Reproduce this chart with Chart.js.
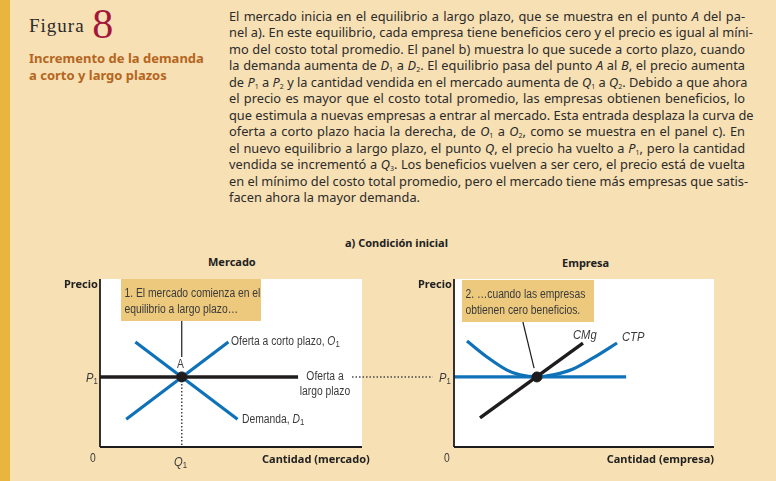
<!DOCTYPE html>
<html>
<head>
<meta charset="utf-8">
<script src="https://cdn.jsdelivr.net/npm/chart.js@4.4.0/dist/chart.umd.min.js"></script>
<style>
html,body{margin:0;padding:0;}
body{width:776px;height:481px;background:#f7e0b4;position:relative;overflow:hidden;font-family:"Noto Sans",sans-serif;color:#2b2b2b;}
#franja{position:absolute;left:0;top:0;width:10px;height:481px;background:#e8b63e;}
.fig{position:absolute;left:29px;top:-6px;font-family:"Liberation Serif",serif;font-size:19px;letter-spacing:1px;color:#2b2b2b;}
.fig b{font-weight:normal;font-size:42px;color:#a3183a;position:relative;top:6px;margin-left:2px;}
.titulo{position:absolute;left:29px;top:50px;font-size:13px;font-weight:bold;line-height:17px;color:#b5651d;}
#texto{position:absolute;left:229px;top:8px;width:516px;font-size:12.8px;line-height:16.45px;}
#texto span{display:block;text-align:justify;text-align-last:justify;white-space:nowrap;}
#texto span.ult{text-align-last:left;}
#texto i{font-style:italic;}
#texto sub{font-size:7px;vertical-align:-2px;line-height:0;}
.lb{position:absolute;white-space:nowrap;transform:translateY(-50%);}
.bold{font-weight:bold;font-size:11px;color:#222;}
.cond{font-family:"Liberation Sans",sans-serif;font-size:12px;color:#3a3a3a;transform:translateY(-50%) scaleX(0.86);transform-origin:left center;}
.cond.cen{transform-origin:center center;text-align:center;}
.cond.gr{font-size:13px;}
.caja{position:absolute;background:#ecc97d;}
.caja div{font-family:"Liberation Sans",sans-serif;font-size:12px;line-height:16px;color:#3a3a3a;padding:6px 0 0 4px;white-space:nowrap;transform:scaleX(0.86);transform-origin:left top;}
.cond sub{font-size:9px;vertical-align:-2px;line-height:0;}
canvas{position:absolute;}
</style>
</head>
<body>
<div id="franja"></div>
<div class="fig">Figura <b>8</b></div>
<div class="titulo">Incremento de la demanda<br>a corto y largo plazos</div>
<div id="texto">
<span>El mercado inicia en el equilibrio a largo plazo, que se muestra en el punto <i>A</i> del pa-</span>
<span>nel a). En este equilibrio, cada empresa tiene beneficios cero y el precio es igual al míni-</span>
<span>mo del costo total promedio. El panel b) muestra lo que sucede a corto plazo, cuando</span>
<span>la demanda aumenta de <i>D</i><sub>1</sub> a <i>D</i><sub>2</sub>. El equilibrio pasa del punto <i>A</i> al <i>B</i>, el precio aumenta</span>
<span>de <i>P</i><sub>1</sub> a <i>P</i><sub>2</sub> y la cantidad vendida en el mercado aumenta de <i>Q</i><sub>1</sub> a <i>Q</i><sub>2</sub>. Debido a que ahora</span>
<span>el precio es mayor que el costo total promedio, las empresas obtienen beneficios, lo</span>
<span>que estimula a nuevas empresas a entrar al mercado. Esta entrada desplaza la curva de</span>
<span>oferta a corto plazo hacia la derecha, de <i>O</i><sub>1</sub> a <i>O</i><sub>2</sub>, como se muestra en el panel c). En</span>
<span>el nuevo equilibrio a largo plazo, el punto <i>Q</i>, el precio ha vuelto a <i>P</i><sub>1</sub>, pero la cantidad</span>
<span>vendida se incrementó a <i>Q</i><sub>3</sub>. Los beneficios vuelven a ser cero, el precio está de vuelta</span>
<span>en el mínimo del costo total promedio, pero el mercado tiene más empresas que satis-</span>
<span class="ult">facen ahora la mayor demanda.</span>
</div>

<canvas id="mercado" width="350" height="187" style="left:90px;top:270px;"></canvas>
<canvas id="empresa" width="280" height="187" style="left:444px;top:270px;"></canvas>

<div class="lb bold" style="left:345px;top:242px;">a) Condición inicial</div>
<div class="lb bold" style="left:208px;top:261px;">Mercado</div>
<div class="lb bold" style="left:562px;top:262px;">Empresa</div>
<div class="lb bold" style="left:64px;top:283px;">Precio</div>
<div class="lb bold" style="left:418px;top:283px;">Precio</div>

<div class="caja" style="left:121px;top:279px;width:140px;height:42px;"><div>1. El mercado comienza en el<br>equilibrio a largo plazo…</div></div>
<div class="caja" style="left:462px;top:280px;width:132px;height:42px;"><div>2. …cuando las empresas<br>obtienen cero beneficios.</div></div>

<div class="lb cond" style="left:231px;top:341px;">Oferta a corto plazo, <i>O</i><sub>1</sub></div>
<div class="lb cond" style="left:177px;top:364px;">A</div>
<div class="lb cond gr" style="left:86px;top:377px;"><i>P</i><sub>1</sub></div>
<div class="lb cond cen" style="left:300px;top:376px;width:50px;">Oferta a</div>
<div class="lb cond cen" style="left:290px;top:391px;width:70px;">largo plazo</div>
<div class="lb cond" style="left:242px;top:419px;">Demanda, <i>D</i><sub>1</sub></div>
<div class="lb cond" style="left:90px;top:458px;">0</div>
<div class="lb cond gr" style="left:174px;top:461px;"><i>Q</i><sub>1</sub></div>
<div class="lb bold" style="left:262px;top:458px;width:100px;text-align:right;">Cantidad (mercado)</div>

<div class="lb cond gr" style="left:573px;top:334px;"><i>CMg</i></div>
<div class="lb cond gr" style="left:622px;top:336px;"><i>CTP</i></div>
<div class="lb cond gr" style="left:439px;top:377px;"><i>P</i><sub>1</sub></div>
<div class="lb cond" style="left:444px;top:458px;">0</div>
<div class="lb bold" style="left:594px;top:458px;width:120px;text-align:right;">Cantidad (empresa)</div>

<script>
// panel Mercado (unidades 0-10 en ambos ejes)
var ejeX=[[0,0],[10,0]];
var ejeY=[[0,0],[0,10]];
var demandaD1=[[1.35,6.25],[5.25,1.65]];
var ofertaO1=[[1.0,1.65],[4.9,6.25]];
var ofertaLargo=[[0,4.17],[7.56,4.17]];
var puntoA=[[3.12,4.17]];
var guiaQ1=[[3.12,4.17],[3.12,0]];
var flecha1=[[3.12,7.5],[3.12,5.36]];
var guiaP1=[[9.62,4.17],[12.7,4.17]];

// panel Empresa
var ejeX2=[[0,0],[10,0]];
var ejeY2=[[0,0],[0,10]];
var precioP1=[[0,4.17],[6.62,4.17]];
var cmg=[[1.0,1.73],[4.96,6.19]];
var ctp=[[0.5,6.31],[1.27,5.36],[2.04,4.58],[2.54,4.29],[3.19,4.17],[3.81,4.29],[4.58,4.64],[5.35,5.30],[6.27,6.19]];
var puntoE=[[3.19,4.17]];
var flecha2=[[2.65,7.44],[3.08,4.7]];

var azul="#0f72b8";
var negro="#1f1c1d";

function pts(a){
	return a.map(function(p){return {x:p[0],y:p[1]};});
}
function linea(datos,color,ancho,extra){
	var d={data:pts(datos),borderColor:color,borderWidth:ancho,showLine:true,pointRadius:0,fill:false,clip:false,tension:0};
	if(extra){for(var k in extra){d[k]=extra[k];}}
	return d;
}
function punto(datos){
	return {data:pts(datos),pointRadius:5,pointBackgroundColor:negro,pointBorderColor:negro,showLine:false,clip:false};
}
var fondoBlanco={
	id:"fondoBlanco",
	beforeDraw:function(chart){
		var a=chart.chartArea,ctx=chart.ctx;
		ctx.save();
		ctx.fillStyle="#ffffff";
		ctx.fillRect(a.left,a.top,a.right-a.left,a.bottom-a.top);
		ctx.restore();
	}
};
function opciones(pad){
	return {
		responsive:false,
		animation:false,
		layout:{padding:pad},
		plugins:{legend:{display:false},tooltip:{enabled:false}},
		scales:{
			x:{type:"linear",min:0,max:10,display:false},
			y:{type:"linear",min:0,max:10,display:false}
		}
	};
}

// chart.js pinta el primer dataset encima de los demas
new Chart(document.getElementById("mercado"),{
	type:"scatter",
	data:{datasets:[
		punto(puntoA),
		linea(ejeX,negro,1.8),
		linea(ejeY,negro,1.8),
		linea(ofertaLargo,negro,3.6),
		linea(demandaD1,azul,3.2),
		linea(ofertaO1,azul,3.2),
		linea(flecha1,negro,1.2),
		linea(guiaQ1,"#444",1.5,{borderDash:[1.5,2]}),
		linea(guiaP1,"#444",1.5,{borderDash:[1.5,2]})
	]},
	options:opciones({left:10,top:9,right:78,bottom:10}),
	plugins:[fondoBlanco]
});

new Chart(document.getElementById("empresa"),{
	type:"scatter",
	data:{datasets:[
		punto(puntoE),
		linea(ejeX2,negro,1.8),
		linea(ejeY2,negro,1.8),
		linea(cmg,negro,3.4),
		linea(precioP1,azul,3.2),
		linea(ctp,azul,3.2,{tension:0.4,cubicInterpolationMode:"monotone"}),
		linea(flecha2,negro,1.2)
	]},
	options:opciones({left:10,top:9,right:10,bottom:10}),
	plugins:[fondoBlanco]
});
</script>
</body>
</html>
